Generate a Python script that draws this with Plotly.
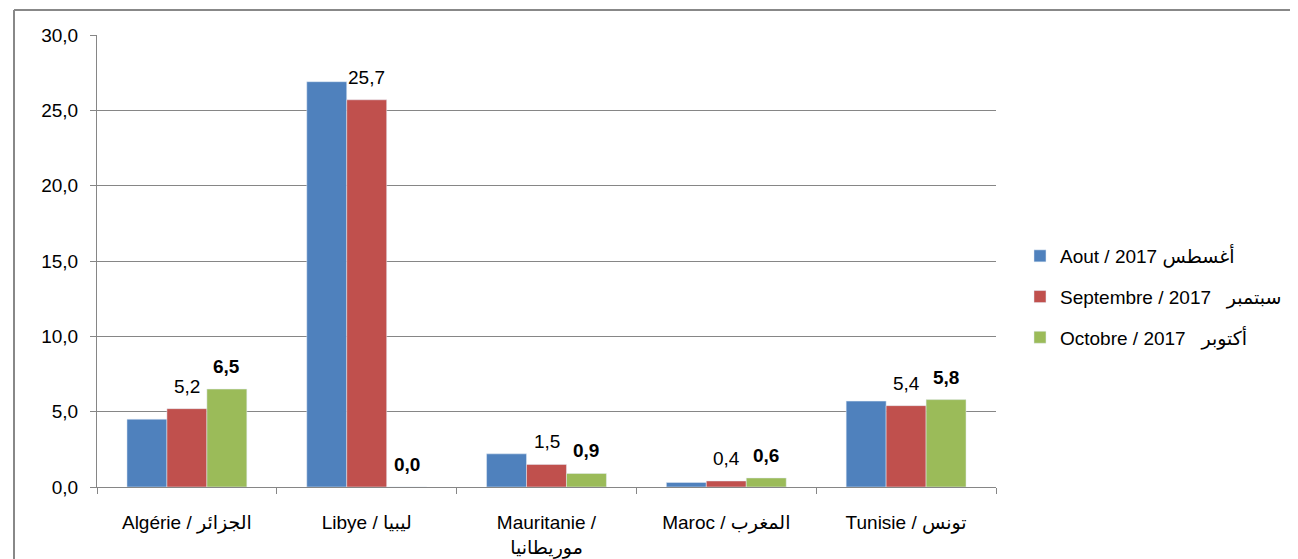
import plotly.graph_objects as go

categories = ["Algérie / الجزائر", "Libye / ليبيا", "Mauritanie /<br>موريطانيا", "Maroc / المغرب", "Tunisie / تونس"]
series_names = ["Aout / 2017 أغسطس", "Septembre / 2017\u00a0\u00a0\u00a0سبتمبر", "Octobre / 2017\u00a0\u00a0\u00a0أكتوبر"]
aout = [4.5, 26.9, 2.2, 0.3, 5.7]
septembre = [5.2, 25.7, 1.5, 0.4, 5.4]
octobre = [6.5, 0.0, 0.9, 0.6, 5.8]
colors = ["#4F81BD", "#C0504D", "#9BBB59"]

FONT = "Liberation Sans, Arial, DejaVu Sans, sans-serif"
FS = 19

# page body has a small margin; compensate so the plot area lands where intended
W, H = 1290, 551
ML, MR, MT, MB = 89, 302, 27, 72
PW = W - ML - MR
PH = H - MT - MB
BARGAP = 1 / 3
bar_px = PW / len(categories) * (1 - BARGAP) / 3


def fmt(v):
    return f"{v:.1f}".replace(".", ",")


fig = go.Figure()
fig.add_trace(go.Bar(x=categories, y=aout, name=series_names[0], marker_color=colors[0], legendgroup="a"))
fig.add_trace(go.Bar(x=categories, y=septembre, name=series_names[1], marker_color=colors[1], legendgroup="b"))
fig.add_trace(go.Bar(x=categories, y=octobre, name=series_names[2], marker_color=colors[2], legendgroup="c"))

annotations = []
for c, v in zip(categories, septembre):
    annotations.append(dict(x=c, y=v, xref="x", yref="y", text=fmt(v), showarrow=False,
                            yanchor="bottom", xanchor="center", xshift=0, yshift=10,
                            font=dict(size=FS, family=FONT, color="#000000")))
for c, v in zip(categories, octobre):
    annotations.append(dict(x=c, y=v, xref="x", yref="y", text="<b>" + fmt(v) + "</b>", showarrow=False,
                            yanchor="bottom", xanchor="center", xshift=bar_px, yshift=10,
                            font=dict(size=FS, family=FONT, color="#000000")))

fig.update_layout(
    width=W, height=H,
    margin=dict(l=ML, r=MR, t=MT, b=MB, autoexpand=False),
    paper_bgcolor="white", plot_bgcolor="white",
    barmode="group", bargap=BARGAP, bargroupgap=0,
    separators=", ",
    font=dict(family=FONT, size=FS, color="#000000"),
    showlegend=True,
    legend=dict(x=(1019 - 95) / 900, y=(487 - 297) / 452, xanchor="left", yanchor="middle",
                font=dict(size=FS, family=FONT), tracegroupgap=13, itemwidth=30,
                traceorder="grouped", itemclick=False),
    xaxis=dict(showline=True, linecolor="#868686", linewidth=1,
               ticks="outside", tickson="boundaries", ticklen=6, tickcolor="#868686",
               ticklabelstandoff=18,
               tickfont=dict(size=FS, family=FONT)),
    yaxis=dict(range=[0, 30], dtick=5, tickformat=".1f",
               showline=True, linecolor="#868686", linewidth=1,
               ticks="outside", ticklen=6, tickcolor="#868686", ticklabelstandoff=8,
               showgrid=True, gridcolor="#868686", gridwidth=1,
               zeroline=False, tickfont=dict(size=FS, family=FONT)),
    annotations=annotations,
    shapes=[
        dict(type="line", xref="paper", yref="paper",
             x0=(12 - 95) / PW, x1=(1310 - 95) / PW, y0=(487 - 10) / PH, y1=(487 - 10) / PH,
             line=dict(color="#888888", width=2)),
        dict(type="line", xref="paper", yref="paper",
             x0=(12 - 95) / PW, x1=(12 - 95) / PW, y0=(487 - 10) / PH, y1=(487 - 570) / PH,
             line=dict(color="#888888", width=2)),
    ],
)

fig.write_html("out.html")
